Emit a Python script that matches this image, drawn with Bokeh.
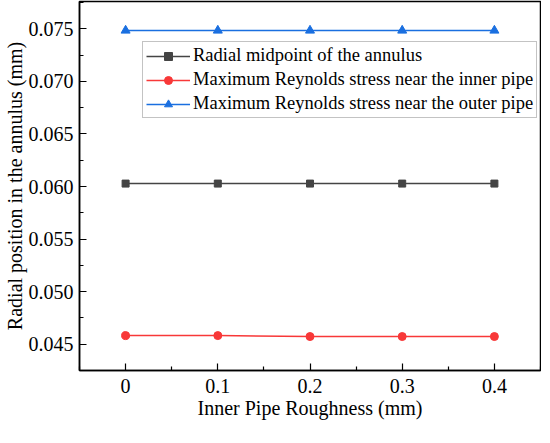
from bokeh.plotting import figure
from bokeh.models import FixedTicker, Legend, LegendItem, NumeralTickFormatter, Range1d
from bokeh.embed import file_html
from bokeh.resources import INLINE

# ---- data ----
roughness = [0.0, 0.1, 0.2, 0.3, 0.4]
radial_midpoint = [0.06028, 0.06028, 0.06028, 0.06028, 0.06028]
max_rs_inner = [0.04582, 0.04582, 0.04573, 0.04573, 0.04573]
max_rs_outer = [0.07484, 0.07484, 0.07484, 0.07484, 0.07484]
x_ticks = [0.0, 0.1, 0.2, 0.3, 0.4]
x_tick_labels = ["0", "0.1", "0.2", "0.3", "0.4"]
x_minor = [-0.05, 0.05, 0.15, 0.25, 0.35, 0.45]
y_ticks = [0.045, 0.050, 0.055, 0.060, 0.065, 0.070, 0.075]
y_minor = [0.0425, 0.0475, 0.0525, 0.0575, 0.0625, 0.0675, 0.0725, 0.0775]
series_names = ["Radial midpoint of the annulus",
                "Maximum Reynolds stress near the inner pipe",
                "Maximum Reynolds stress near the outer pipe"]

FONT = "'Liberation Serif', 'DejaVu Serif', serif"

p = figure(frame_width=461, frame_height=369, output_backend="svg", toolbar_location=None,
           x_range=Range1d(-0.05, 0.45), y_range=Range1d(0.0425, 0.0776),
           min_border_left=72, min_border_right=1, min_border_top=1, min_border_bottom=56)

p.background_fill_color = "white"
p.border_fill_color = "white"
p.outline_line_color = "black"
p.outline_line_width = 1.5
p.xgrid.visible = False
p.ygrid.visible = False

l1 = p.line(roughness, radial_midpoint, line_color="#444444", line_width=1.5)
m1 = p.scatter(roughness, radial_midpoint, marker="square", size=7, color="#444444")
l2 = p.line(roughness, max_rs_inner, line_color="#f83838", line_width=1.5)
m2 = p.scatter(roughness, max_rs_inner, marker="circle", size=8, color="#f83838")
l3 = p.line(roughness, max_rs_outer, line_color="#1a6fe0", line_width=1.5)
m3 = p.scatter(roughness, max_rs_outer, marker="triangle", size=9, color="#1a6fe0")

xa = p.xaxis[0]
xa.ticker = FixedTicker(ticks=x_ticks, minor_ticks=x_minor)
xa.major_label_overrides = {t: s for t, s in zip(x_ticks, x_tick_labels)}
ya = p.yaxis[0]
ya.ticker = FixedTicker(ticks=y_ticks, minor_ticks=y_minor)
ya.formatter = NumeralTickFormatter(format="0.000")

for ax in (xa, ya):
    ax.axis_line_color = "black"
    ax.axis_line_width = 1.5
    ax.major_tick_in = 7
    ax.major_tick_out = 0
    ax.minor_tick_in = 4
    ax.minor_tick_out = 0
    ax.major_tick_line_color = "black"
    ax.minor_tick_line_color = "black"
    ax.major_tick_line_width = 1.2
    ax.minor_tick_line_width = 1.2
    ax.major_label_text_font = FONT
    ax.major_label_text_font_size = "20px"
    ax.major_label_text_color = "black"
    ax.axis_label_text_font = FONT
    ax.axis_label_text_font_size = "20px"
    ax.axis_label_text_font_style = "normal"
    ax.axis_label_text_color = "black"

xa.axis_label = "Inner Pipe Roughness (mm)"
xa.major_label_standoff = 8
xa.axis_label_standoff = 1
ya.axis_label = "Radial position in the annulus (mm)"
ya.major_label_standoff = 6
ya.axis_label_standoff = 0

legend = Legend(items=[
    LegendItem(label=series_names[0], renderers=[l1, m1]),
    LegendItem(label=series_names[1], renderers=[l2, m2]),
    LegendItem(label=series_names[2], renderers=[l3, m3]),
], location=(63, 252))
legend.label_text_font = FONT
legend.label_text_font_size = "18.5px"
legend.label_text_color = "black"
legend.border_line_color = "#888888"
legend.border_line_width = 1
legend.background_fill_alpha = 1.0
legend.glyph_width = 44
legend.glyph_height = 20
legend.label_height = 20
legend.label_standoff = 3
legend.spacing = 3
legend.padding = 3
legend.margin = 0
p.add_layout(legend, "center")

open("out.html", "w").write(file_html(p, INLINE))
